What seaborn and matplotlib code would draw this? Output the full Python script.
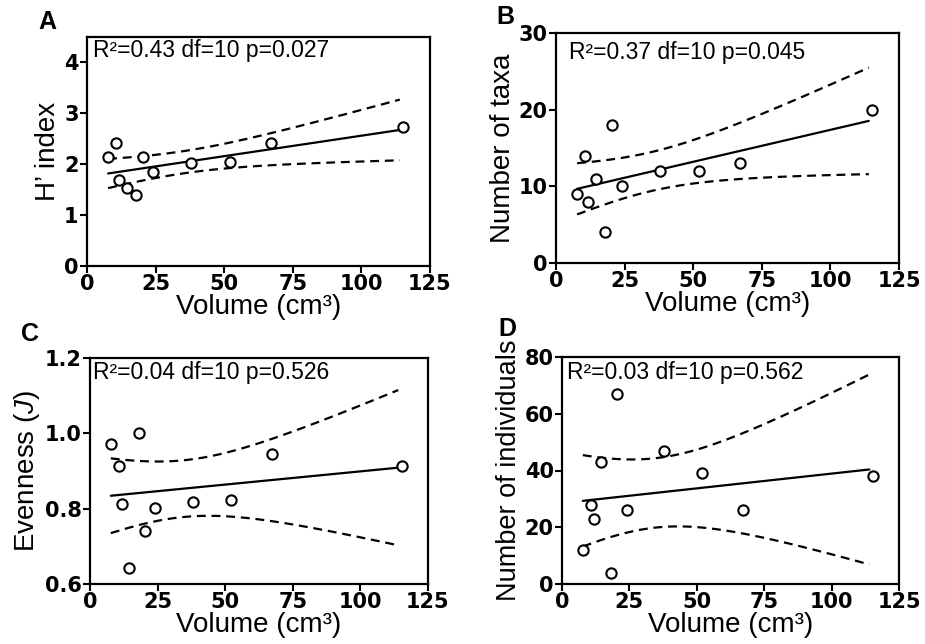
import numpy as np
import matplotlib
matplotlib.use("Agg")
import matplotlib.pyplot as plt
import seaborn as sns

# Sample volumes (cm^3) and community metrics per sample
volume = [7.7, 10.7, 11.7, 14.4, 18.0, 20.5, 24.0, 38.0, 52.0, 67.2, 115.3]
h_index = [2.14, 2.41, 1.69, 1.54, 1.39, 2.14, 1.84, 2.03, 2.04, 2.42, 2.73]
n_taxa = [9, 14, 8, 11, 4, 18, 10, 12, 12, 13, 20]
evenness = [0.972, 0.914, 0.813, 0.643, 1.0, 0.740, 0.801, 0.818, 0.824, 0.945, 0.914]
n_individuals = [12, 28, 23, 43, 4, 67, 26, 47, 39, 26, 38]

panel_letters = ["A", "B", "C", "D"]
y_labels = ["H\u2019 index", "Number of taxa", "Evenness ($\\mathit{J}$)", "Number of individuals"]
stats_text = [
    "R\u00b2=0.43 df=10 p=0.027",
    "R\u00b2=0.37 df=10 p=0.045",
    "R\u00b2=0.04 df=10 p=0.526",
    "R\u00b2=0.03 df=10 p=0.562",
]
y_limits = [(0, 4.5), (0, 30), (0.6, 1.2), (0, 80)]
y_ticks = [[0, 1, 2, 3, 4], [0, 10, 20, 30], [0.6, 0.8, 1.0, 1.2], [0, 20, 40, 60, 80]]
y_ticklabels = [["0", "1", "2", "3", "4"], ["0", "10", "20", "30"],
                ["0.6", "0.8", "1.0", "1.2"], ["0", "20", "40", "60", "80"]]
x_ticks = [0, 25, 50, 75, 100, 125]

T_CRIT = 2.262  # two-sided 95% t quantile, 9 residual df

sns.set_theme(style="ticks")
plt.rcParams["font.family"] = ["Liberation Sans", "DejaVu Sans"]
plt.rcParams["mathtext.fontset"] = "custom"
plt.rcParams["mathtext.rm"] = "Liberation Sans"
plt.rcParams["mathtext.it"] = "Liberation Sans:italic"

TICK_FONT = dict(family="DejaVu Sans", weight="bold", size=15)

fig = plt.figure(figsize=(9.25, 6.44), dpi=100)

# axes rectangles in figure pixels: left, top, right, bottom
boxes = [(87, 37, 430, 266), (556, 33, 899, 263), (90, 358, 428, 584), (562, 357, 899, 584)]
text_offsets = [(6, 13), (13, 19), (3, 14), (5, 15)]
letter_pos = [(47, 22), (505, 17), (30, 334), (507, 329)]
ylabel_sizes = [20, 20, 20, 19.5]
W, H = 925, 644


def fit_and_band(x, y, grid):
    x = np.asarray(x, float)
    y = np.asarray(y, float)
    n = len(x)
    slope, intercept = np.polyfit(x, y, 1)
    resid = y - (slope * x + intercept)
    s = np.sqrt(np.sum(resid ** 2) / (n - 2))
    sxx = np.sum((x - x.mean()) ** 2)
    se = s * np.sqrt(1.0 / n + (grid - x.mean()) ** 2 / sxx)
    fit = slope * grid + intercept
    return fit, fit - T_CRIT * se, fit + T_CRIT * se


series = [h_index, n_taxa, evenness, n_individuals]
grid = np.linspace(min(volume), 114.0, 200)

for i, yvals in enumerate(series):
    l, t, r, b = boxes[i]
    ax = fig.add_axes([l / W, 1 - b / H, (r - l) / W, (b - t) / H])
    fit, lo, hi = fit_and_band(volume, yvals, grid)

    sns.lineplot(x=grid, y=fit, ax=ax, color="black", lw=1.6, zorder=2)
    sns.lineplot(x=grid, y=lo, ax=ax, color="black", lw=1.6,
                 linestyle=(0, (4, 2.6)), zorder=2)
    sns.lineplot(x=grid, y=hi, ax=ax, color="black", lw=1.6,
                 linestyle=(0, (4, 2.6)), zorder=2)
    sns.scatterplot(x=volume, y=yvals, ax=ax, s=55, marker="o",
                    facecolor="white", edgecolor="black", linewidth=1.5, zorder=3)

    ax.set_xlim(0, 125)
    ax.set_ylim(*y_limits[i])
    ax.set_xticks(x_ticks)
    ax.set_xticklabels([str(v) for v in x_ticks], **TICK_FONT)
    ax.set_yticks(y_ticks[i])
    ax.set_yticklabels(y_ticklabels[i], **TICK_FONT)
    ax.tick_params(axis="both", direction="out", length=5, width=1.5,
                   color="black", pad=1, labelcolor="black")
    for sp in ax.spines.values():
        sp.set_visible(True)
        sp.set_linewidth(1.6)
        sp.set_color("black")

    ax.set_xlabel("Volume (cm\u00b3)", fontsize=20, labelpad=0, color="black")
    ax.set_ylabel(y_labels[i], fontsize=ylabel_sizes[i], labelpad=2, color="black")

    dx, dy = text_offsets[i]
    fig.text((l + dx) / W, 1 - (t + dy) / H, stats_text[i], fontsize=16.5,
             va="center", ha="left", color="black")
    lx, ly = letter_pos[i]
    fig.text(lx / W, 1 - ly / H, panel_letters[i], fontsize=18, fontweight="bold",
             va="center", ha="center", color="black")

fig.savefig("out.png", dpi=100)
